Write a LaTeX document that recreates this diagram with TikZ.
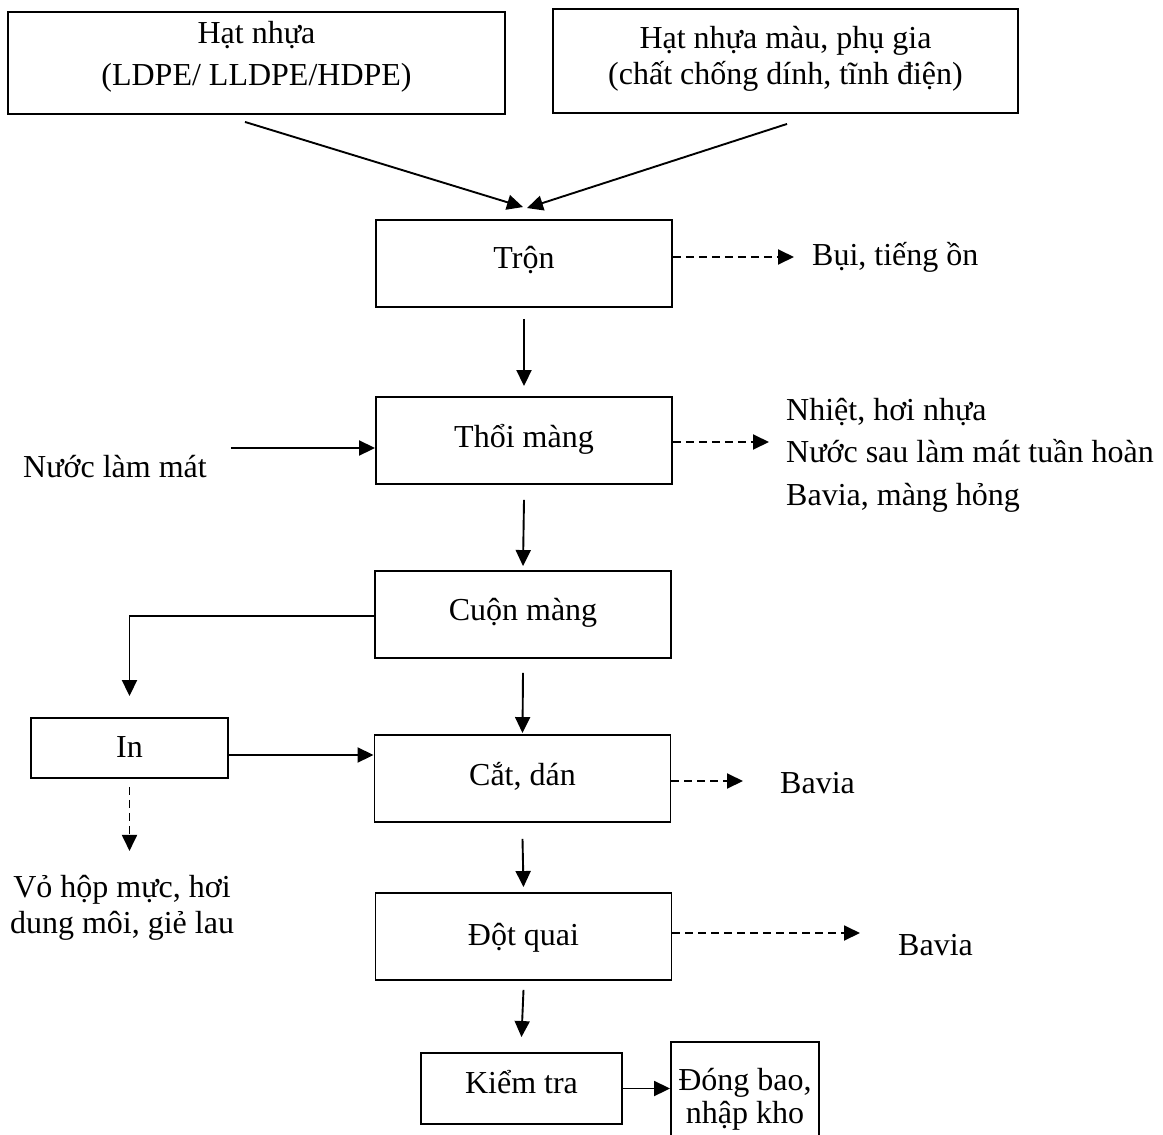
\documentclass[tikz,border=0pt]{standalone}
\usepackage{fontspec}
\setmainfont{Liberation Serif}
\usetikzlibrary{arrows.meta}
\begin{document}
\begin{tikzpicture}[x=1pt,y=-1pt,
  every node/.style={font=\fontsize{32}{42}\selectfont, inner sep=0pt},
  box/.style={draw, line width=1.9pt, rectangle},
  stepbox/.style={box, minimum width=296pt, minimum height=87pt},
  lbl/.style={anchor=base west},
  ctr/.style={anchor=base},
  arr/.style={line width=1.9pt, -{Triangle[length=16pt,width=15pt]}},
  darr/.style={arr, dash pattern=on 8pt off 5pt},
]
\useasboundingbox (0,0) rectangle (1163,1135);

% raw materials
\node[box, minimum width=497pt, minimum height=102pt] (hat) at (256.5,63) {};
\node[ctr] (hatA) at (256.5,43) {Hạt nhựa};
\node[ctr] (hatB) at (256.5,85) {(LDPE/ LLDPE/HDPE)};
\node[box, minimum width=465pt, minimum height=104pt] (phu) at (785.5,61) {};
\node[ctr] (phuA) at (785.5,48) {Hạt nhựa màu, phụ gia};
\node[ctr] (phuB) at (785.5,84) {(chất chống dính, tĩnh điện)};

% process steps
\node[stepbox, text height=18pt, text depth=9pt] (tron) at (524,263.5) {Trộn};
\node[stepbox, text height=22pt, text depth=9pt] (thoi) at (524,440.5) {Thổi màng};
\node[stepbox, text height=20pt, text depth=9pt] (cuon) at (523,614.5) {Cuộn màng};
\node[stepbox, text height=22pt, text depth=9pt] (cat) at (522.5,778.5) {Cắt, dán};
\node[stepbox, text height=26pt, text depth=9pt] (dot) at (523.5,936.5) {Đột quai};
\node[box, minimum width=197pt, minimum height=60pt, text height=27pt, text depth=9pt] (in) at (129.5,748) {In};
\node[box, minimum width=201pt, minimum height=71pt, text height=18pt, text depth=9pt] (kiem) at (521.5,1088.5) {Kiểm tra};
\node[box, minimum width=148pt, minimum height=98pt] (dong) at (745,1091) {};
\node[ctr] (dongA) at (745,1090) {Đóng bao,};
\node[ctr] (dongB) at (745,1123) {nhập kho};

% inputs and wastes
\node[lbl] (bui) at (812,265) {Bụi, tiếng ồn};
\node[lbl] (nuoc) at (23,477) {Nước làm mát};
\node[lbl] (nhiet) at (786,420) {Nhiệt, hơi nhựa};
\node[lbl] (nuocsau) at (786,462) {Nước sau làm mát tuần hoàn};
\node[lbl] (baviaA) at (786,505) {Bavia, màng hỏng};
\node[ctr] (voA) at (122,897) {Vỏ hộp mực, hơi};
\node[ctr] (voB) at (122,933) {dung môi, giẻ lau};
\node[lbl] (baviaB) at (780,793) {Bavia};
\node[lbl] (baviaC) at (898,955) {Bavia};

% main flow
\draw[arr] ([shift={(-11.5,7)}]hat.south) -- ([shift={(-1,-12)}]tron.north);
\draw[arr] ([shift={(1.5,10)}]phu.south) -- ([shift={(3,-11)}]tron.north);
\draw[arr] ([yshift=-11pt]tron.south) -- ([yshift=10pt]thoi.north);
\draw[arr] ([yshift=-15pt]thoi.south) -- ([yshift=4pt]cuon.north);
\draw[arr] ([yshift=-14pt]cuon.south) -- ([yshift=1pt]cat.north);
\draw[arr] ([yshift=-16pt]cat.south) -- ([yshift=5pt]dot.north);
\draw[arr] ([yshift=-9pt]dot.south) -- ([yshift=15pt]kiem.north);
\draw[arr] (kiem.east) -- (kiem.east -| dong.west);

% printing branch
\draw[arr] ([yshift=-1.5pt]cuon.west) -| ([yshift=21pt]in.north);
\coordinate (inR) at ([yshift=-7pt]in.east);
\draw[arr] (inR) -- (inR -| cat.west);
\draw[darr] ([yshift=-8pt]in.south) -- ++(0,64);

% cooling water
\coordinate (w1) at ([yshift=-7.5pt]thoi.west);
\draw[arr] ([xshift=24pt]nuoc.east |- w1) -- (w1);

% waste outputs
\coordinate (t1) at ([yshift=6.5pt]tron.east);
\draw[darr] (t1) -- ([xshift=-18pt]bui.west |- t1);
\coordinate (t2) at ([yshift=-1.5pt]thoi.east);
\draw[darr] (t2) -- ([xshift=-17pt]nhiet.west |- t2);
\coordinate (t3) at ([yshift=-2.5pt]cat.east);
\draw[darr] (t3) -- ([xshift=-37pt]baviaB.west |- t3);
\coordinate (t4) at ([yshift=3.5pt]dot.east);
\draw[darr] (t4) -- ([xshift=-38pt]baviaC.west |- t4);
\end{tikzpicture}
\end{document}
